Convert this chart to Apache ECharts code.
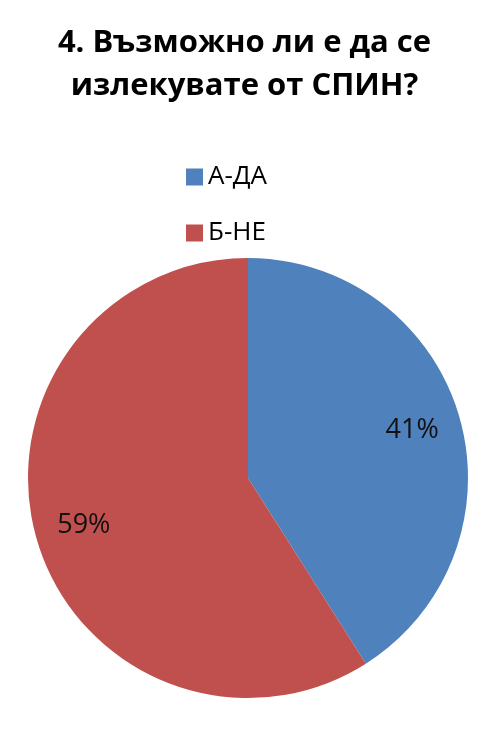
<!DOCTYPE html>
<html><head><meta charset="utf-8">
<script src="https://cdn.jsdelivr.net/npm/echarts@6/dist/echarts.min.js"></script>
<style>html,body{margin:0;padding:0;background:#fff}#c{width:489px;height:750px}</style>
</head><body><div id="c"></div>
<script>
var titleText = '4. Възможно ли е да се\nизлекувате от СПИН?';
var categories = ['А-ДА', 'Б-НЕ'];
var values = [41, 59];
var colors = ['#4F81BD', '#C0504D'];

var chart = echarts.init(document.getElementById('c'));
var data = categories.map(function (c, i) { return { name: c, value: values[i], itemStyle: { color: colors[i] } }; });
var labelData = categories.map(function (c, i) { return { name: c, value: values[i] }; });
chart.setOption({
  animation: false,
  title: {
    text: titleText, left: 'center', top: 17,
    textStyle: { fontFamily: 'Open Sans', fontWeight: 'bold', fontSize: 31, lineHeight: 43, color: '#000' }
  },
  legend: {
    orient: 'vertical', left: 181, top: 159, itemWidth: 17, itemHeight: 17, itemGap: 30,
    icon: 'rect', data: categories,
    textStyle: { fontFamily: 'Open Sans', fontSize: 26, color: '#000' }
  },
  series: [
    {
      type: 'pie', center: [248, 478], radius: 220, startAngle: 90, clockwise: true,
      data: data, label: { show: false }, labelLine: { show: false }, silent: true
    },
    {
      type: 'pie', center: [248, 478], radius: [116, 220], startAngle: 90, clockwise: true,
      data: labelData, silent: true, legendHoverLink: false,
      itemStyle: { color: 'rgba(0,0,0,0)' },
      label: { show: true, position: 'inside', formatter: '{c}%', fontFamily: 'Open Sans', fontSize: 27, color: '#111' },
      labelLine: { show: false }
    }
  ]
});
</script></body></html>
